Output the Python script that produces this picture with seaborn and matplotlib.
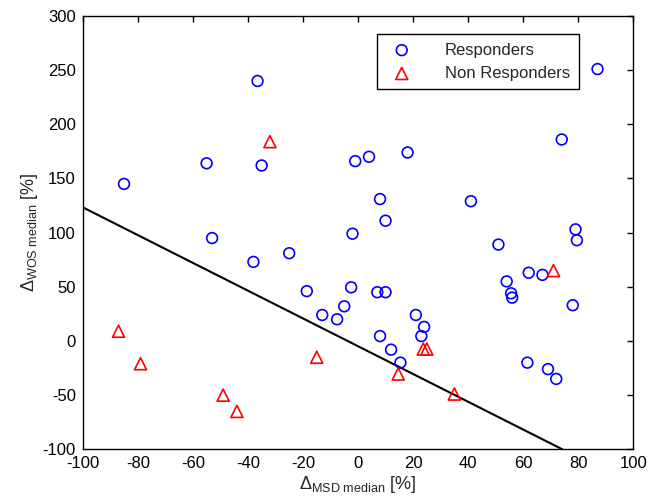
import numpy as np
import pandas as pd
import matplotlib
matplotlib.use('Agg')
import matplotlib.pyplot as plt
import seaborn as sns

# responders (circles)
resp_x = [-85, -36.5, -55, -35, -1, 4, 18, 87, 74, 8, 10, 41, -2, 79, 79.5,
          -53, -38, -25, -18.6, -2.5, -5, -13, -7.6, 7, 10, 8, 12, 15.4,
          21, 24, 23, 51, 54, 55.6, 56, 62, 67, 78, 61.5, 69, 72]
resp_y = [145, 240, 164, 162, 166, 170, 174, 251, 186, 131, 111, 129, 99, 103, 93,
          95, 73, 81, 46, 49.5, 32, 24, 20, 45, 45, 4.5, -8, -20,
          24, 13, 4.5, 89, 55, 44, 40, 63, 61, 33, -20, -26, -35]

# non responders (triangles)
nonresp_x = [-32, -87, -79, -49, -44, -15, 14.6, 23.7, 25, 35, 71]
nonresp_y = [184, 9, -21, -50, -65, -15, -30.5, -7.5, -7.5, -49, 65]

# separating line
line_x = [-100, 74.2]
line_y = [123.4, -100]

xticks = [-100, -80, -60, -40, -20, 0, 20, 40, 60, 80, 100]
yticks = [-100, -50, 0, 50, 100, 150, 200, 250, 300]

sns.set_style('white')
plt.rcParams['font.family'] = ['Liberation Sans', 'DejaVu Sans']
plt.rcParams['mathtext.fontset'] = 'custom'
plt.rcParams['mathtext.rm'] = 'Liberation Sans'
plt.rcParams['mathtext.it'] = 'Liberation Sans'
plt.rcParams['mathtext.default'] = 'regular'
plt.rcParams['axes.unicode_minus'] = False

fig = plt.figure(figsize=(6.58, 5.01), dpi=100)
ax = fig.add_axes([0.1257, 0.1032, 0.8368, 0.8649])

ax.plot(line_x, line_y, color='black', lw=1.5)

resp = pd.DataFrame({'x': resp_x, 'y': resp_y})
nonresp = pd.DataFrame({'x': nonresp_x, 'y': nonresp_y})

sns.scatterplot(data=resp, x='x', y='y', marker='o', s=60, facecolors='none',
                edgecolor='#0000ff', linewidth=1.2, label='Responders', ax=ax, zorder=3)
sns.scatterplot(data=nonresp, x='x', y='y', marker='^', s=75, facecolors='none',
                edgecolor='#ff0000', linewidth=1.2, label='Non Responders', ax=ax, zorder=3)

ax.set_xlim(-100, 100)
ax.set_ylim(-100, 300)
ax.set_xticks(xticks)
ax.set_yticks(yticks)
ax.tick_params(direction='in', length=4, width=1, top=True, right=True,
               labelsize=12, colors='black', pad=5)
for sp in ax.spines.values():
    sp.set_color('black')
    sp.set_linewidth(1)

ax.set_xlabel(r'$\Delta_{MSD\ median}$ [%]', fontsize=13, labelpad=2)
ax.set_ylabel(r'$\Delta_{WOS\ median}$ [%]', fontsize=13, labelpad=2)

leg = ax.legend(loc='upper left', bbox_to_anchor=(0.534, 0.958), borderaxespad=0,
                fancybox=False, edgecolor='black', fontsize=12, framealpha=1,
                borderpad=0.5, handletextpad=1.6, labelspacing=0.5)
leg.get_frame().set_linewidth(1)

fig.savefig('out.png', dpi=100)
